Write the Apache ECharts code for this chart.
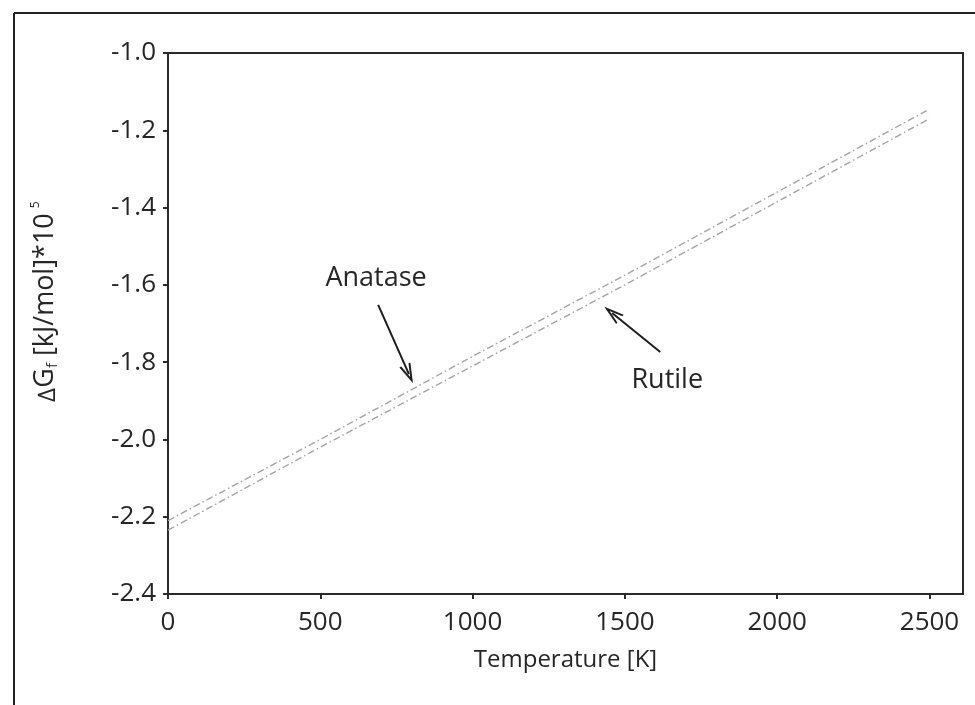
<!DOCTYPE html>
<html>
<head>
<meta charset="utf-8">
<script src="https://cdn.jsdelivr.net/npm/echarts@6/dist/echarts.min.js"></script>
<style>
  html, body { margin: 0; padding: 0; background: #fff; }
  #chart { width: 975px; height: 705px; }
</style>
</head>
<body>
<div id="chart"></div>
<script>
// Temperature (K) at which values were read
const temperatures = [0, 500, 1000, 1500, 2000, 2500];
// ΔGf [kJ/mol]*10^5
const anatase = [-2.21, -2.00, -1.785, -1.575, -1.36, -1.145];
const rutile  = [-2.235, -2.02, -1.81, -1.60, -1.385, -1.17];
const xTicks = [0, 500, 1000, 1500, 2000, 2500];
const yTicks = [-2.4, -2.2, -2.0, -1.8, -1.6, -1.4, -1.2, -1.0];
// annotation anchors in data units
const anataseLabel = { text: 'Anatase', at: [683, -1.583], arrowFrom: [690, -1.652], arrowTo: [791, -1.831] };
const rutileLabel  = { text: 'Rutile',  at: [1639, -1.846], arrowFrom: [1616, -1.774], arrowTo: [1458, -1.673] };

const FONT = 'Open Sans';
const TXT = '#262626';

function pairs(xs, ys) { return xs.map((x, i) => [x, ys[i]]); }

const chart = echarts.init(document.getElementById('chart'), null, { renderer: 'canvas' });

const lineStyleBase = { width: 1.4, color: '#a3a3a3', type: [7, 3, 1.5, 3] };
const chevron = 'path://M0,10 L5,0 L10,10 L8.3,10 L5,3.4 L1.7,10 Z';

const arrowLine = (a) => ({
  silent: true,
  symbol: ['none', chevron],
  symbolSize: [12, 20],
  lineStyle: { color: '#1e1e1e', width: 2, type: 'solid' },
  label: { show: false },
  emphasis: { disabled: true },
  data: [[{ coord: a.arrowFrom }, { coord: a.arrowTo }]]
});
const textPoint = (a) => ({
  silent: true,
  symbol: 'circle',
  symbolSize: 0,
  label: { show: true, position: 'inside', formatter: a.text, fontFamily: FONT, fontSize: 27, color: TXT },
  data: [{ coord: a.at }]
});

chart.setOption({
  animation: false,
  backgroundColor: '#fff',
  grid: { left: 168, right: 12, top: 53, bottom: 111, show: true, borderColor: '#2a2a2a', borderWidth: 2, backgroundColor: 'transparent' },
  xAxis: {
    type: 'value', min: 0, max: 2610,
    name: 'Temperature [K]', nameLocation: 'middle', nameGap: 54, nameMoveOverlap: false,
    nameTextStyle: { fontFamily: FONT, fontSize: 24, color: TXT },
    axisLine: { show: true, onZero: false, lineStyle: { color: '#2a2a2a', width: 2 } },
    axisTick: { show: true, inside: false, length: 5, lineStyle: { color: '#2a2a2a', width: 2 }, customValues: xTicks },
    axisLabel: { fontFamily: FONT, fontSize: 26, color: TXT, margin: 16, customValues: xTicks, formatter: v => String(v) },
    splitLine: { show: false }
  },
  yAxis: {
    type: 'value', min: -2.4, max: -1.0, interval: 0.2,
    name: '{d|∆}{g|G}{s|f}{g| [kJ/mol]*10}{p|5}', nameLocation: 'middle', nameGap: 108, nameRotate: 90, nameMoveOverlap: false,
    nameTextStyle: {
      fontFamily: FONT, color: TXT, padding: [0, 0, 0, 44],
      rich: {
        d: { fontFamily: FONT, fontSize: 24, color: TXT, verticalAlign: 'bottom', lineHeight: 30 },
        g: { fontFamily: FONT, fontSize: 27, color: TXT, lineHeight: 30 },
        s: { fontFamily: FONT, fontSize: 15, color: TXT, verticalAlign: 'bottom', lineHeight: 30 },
        p: { fontFamily: FONT, fontSize: 12, color: TXT, verticalAlign: 'top', lineHeight: 30, padding: [0, 0, 0, 5] }
      }
    },
    axisLine: { show: true, onZero: false, lineStyle: { color: '#2a2a2a', width: 2 } },
    axisTick: { show: true, inside: false, length: 5, lineStyle: { color: '#2a2a2a', width: 2 } },
    axisLabel: { fontFamily: FONT, fontSize: 26, color: TXT, margin: 12, formatter: v => v.toFixed(1) },
    splitLine: { show: false }
  },
  graphic: [
    { type: 'line', shape: { x1: 14, y1: 13, x2: 975, y2: 13 }, style: { stroke: '#222', lineWidth: 2 }, silent: true },
    { type: 'line', shape: { x1: 14, y1: 13, x2: 14, y2: 705 }, style: { stroke: '#222', lineWidth: 2 }, silent: true }
  ],
  series: [
    {
      name: 'Anatase', type: 'line', data: pairs(temperatures, anatase),
      showSymbol: false, symbol: 'none', lineStyle: lineStyleBase, z: 3,
      markLine: arrowLine(anataseLabel), markPoint: textPoint(anataseLabel)
    },
    {
      name: 'Rutile', type: 'line', data: pairs(temperatures, rutile),
      showSymbol: false, symbol: 'none', lineStyle: lineStyleBase, z: 3,
      markLine: arrowLine(rutileLabel), markPoint: textPoint(rutileLabel)
    }
  ]
});
</script>
</body>
</html>
